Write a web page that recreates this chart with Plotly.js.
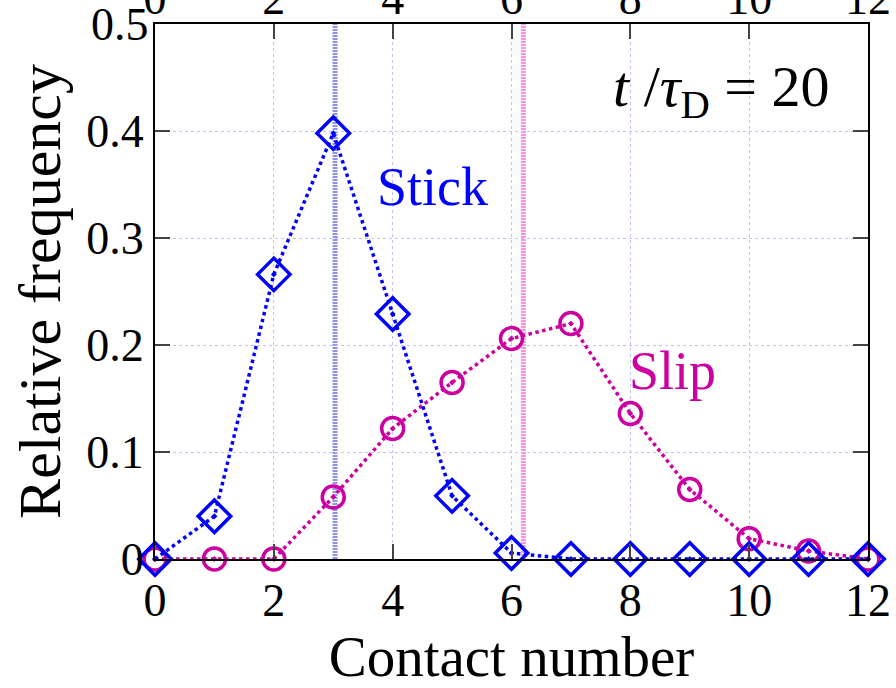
<!DOCTYPE html>
<html><head><meta charset="utf-8">
<script src="https://cdn.plot.ly/plotly-3.0.1.min.js"></script>
<style>html,body{margin:0;padding:0;background:#fff}#c{width:896px;height:688px}</style>
</head><body><div id="c"></div>
<script>
const contact = [0,1,2,3,4,5,6,7,8,9,10,11,12];
const stick = [0,0.040,0.266,0.398,0.229,0.059,0.0056,0,0,0,0,0,0];
const slip = [0,0,0,0.058,0.122,0.165,0.206,0.220,0.136,0.065,0.019,0.0075,0];
const meanStick = 3.03;
const meanSlip = 6.2;
const xTicks = [0,2,4,6,8,10,12];
const yTicks = [0,0.1,0.2,0.3,0.4,0.5];
const yTickText = ['0','0.1','0.2','0.3','0.4','0.5'];

const blue = '#0000ff', mag = '#cc00a0';
const font = 'Liberation Serif, Times New Roman, serif';

const traces = [
  {x: contact, y: slip, mode: 'lines+markers', cliponaxis: false,
   line: {color: mag, width: 3.5, dash: 'dot'},
   marker: {symbol: 'circle-open-dot', size: 22, color: mag, line: {width: 3.5, color: mag}}},
  {x: contact, y: stick, mode: 'lines+markers', cliponaxis: false,
   line: {color: blue, width: 3.5, dash: 'dot'},
   marker: {symbol: 'diamond-open-dot', size: 25, color: blue, line: {width: 3.5, color: blue}}},
  {x: [0], y: [0], xaxis: 'x2', mode: 'markers', marker: {opacity: 0}, hoverinfo: 'skip'}
];

// last y tick label (top edge) drawn as annotation so it is not dropped
const yTickTextShown = yTickText.map((t, i) => i === yTickText.length - 1 ? '' : t);

const layout = {
  width: 896, height: 688,
  margin: {l: 155, r: 28, t: 24, b: 129},
  paper_bgcolor: '#fff', plot_bgcolor: '#fff',
  showlegend: false,
  font: {family: font, size: 46, color: '#000'},
  xaxis: {range: [0, 12], tickvals: xTicks, ticks: 'inside', ticklen: 15, tickwidth: 2,
    showline: true, linewidth: 2, linecolor: '#000', mirror: true,
    showgrid: true, gridcolor: '#c0c0ff', griddash: 'dot', gridwidth: 1, zeroline: false,
    tickfont: {size: 46}, title: {text: 'Contact number', font: {size: 57}, standoff: 4}},
  xaxis2: {range: [0, 12], tickvals: xTicks, overlaying: 'x', side: 'top', ticks: 'inside',
    ticklen: 15, tickwidth: 2, showgrid: false, zeroline: false, tickfont: {size: 46}},
  yaxis: {range: [0, 0.5], tickvals: yTicks, ticktext: yTickTextShown, ticks: 'inside', ticklen: 15, tickwidth: 2,
    showline: true, linewidth: 2, linecolor: '#000', mirror: 'ticks',
    showgrid: true, gridcolor: '#c0c0ff', griddash: 'dot', gridwidth: 1, zeroline: false,
    tickfont: {size: 46}, title: {text: 'Relative frequency', font: {size: 60}, standoff: 6}},
  shapes: [
    {type: 'line', xref: 'x', yref: 'paper', x0: meanStick, x1: meanStick, y0: 0, y1: 1,
     line: {color: '#9090f0', width: 5, dash: '2px,1px'}, layer: 'below'},
    {type: 'line', xref: 'x', yref: 'paper', x0: meanSlip, x1: meanSlip, y0: 0, y1: 1,
     line: {color: '#ff90e0', width: 5, dash: '2px,1px'}, layer: 'below'}
  ],
  annotations: [
    {x: 0, y: yTicks[yTicks.length - 1], xref: 'paper', yref: 'y', xanchor: 'right', yanchor: 'middle',
     xshift: -4, showarrow: false, text: yTickText[yTickText.length - 1], font: {size: 46, color: '#000', family: font}},
    {x: 3.7, y: 0.348, xref: 'x', yref: 'y', xanchor: 'left', yanchor: 'middle', showarrow: false,
     text: 'Stick', font: {size: 54, color: blue, family: font}},
    {x: 7.95, y: 0.176, xref: 'x', yref: 'y', xanchor: 'left', yanchor: 'middle', showarrow: false,
     text: 'Slip', font: {size: 54, color: mag, family: font}},
    {x: 11.4, y: 0.438, xref: 'x', yref: 'y', xanchor: 'right', yanchor: 'middle', showarrow: false,
     text: '<i>t</i> /<i>τ</i><sub>D</sub> = 20', font: {size: 58, color: '#000', family: font}}
  ]
};
Plotly.newPlot('c', traces, layout, {displayModeBar: false, staticPlot: true});
</script></body></html>
